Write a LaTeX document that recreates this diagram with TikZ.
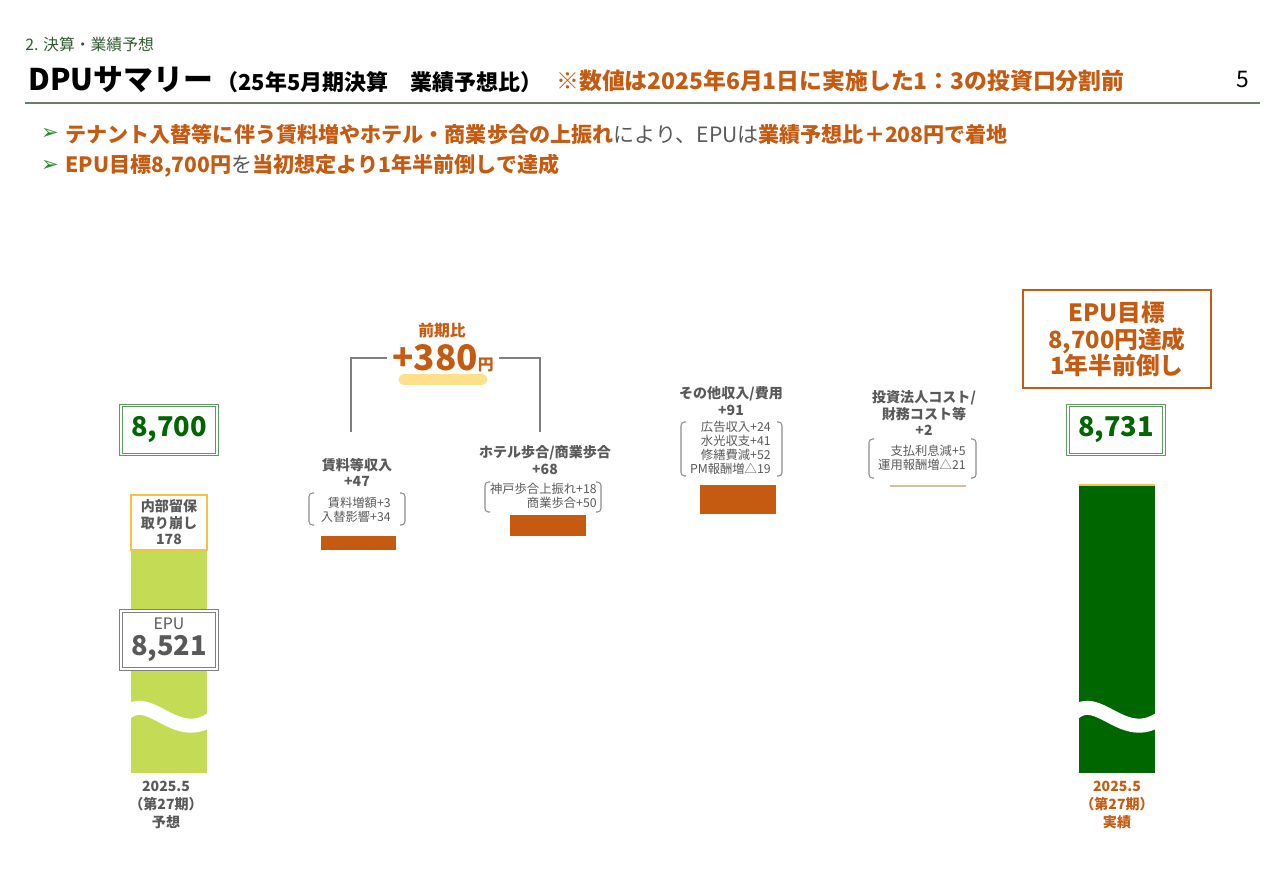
\documentclass[tikz,border=0pt]{standalone}
\usepackage{fontspec}
\setmainfont{Noto Sans CJK JP}
\newfontfamily\symfont{DejaVu Sans}
\usepackage{tikz}
\usetikzlibrary{positioning}

\definecolor{accent}{HTML}{C55A11}
\definecolor{txtgray}{HTML}{595959}
\definecolor{hdrgreen}{HTML}{2F5A2F}
\definecolor{rulegreen}{HTML}{667F66}
\definecolor{bulletgreen}{HTML}{2E8B2E}
\definecolor{numgreen}{HTML}{006600}
\definecolor{boxgreen}{HTML}{5E9A5E}
\definecolor{barlime}{HTML}{C4DB55}
\definecolor{bardark}{HTML}{006600}
\definecolor{boxyellow}{HTML}{F5C342}
\definecolor{hilite}{HTML}{FFE08A}
\definecolor{bartan}{HTML}{D9BD9E}
\definecolor{brkgray}{HTML}{8C8C8C}
\definecolor{lngray}{HTML}{7F7F7F}

\begin{document}
\begin{tikzpicture}
		[
			x=0.02cm, y=-0.02cm,
			every node/.style={inner sep=0pt},
			ttl/.style={font=\fontsize{8}{9.2}\selectfont\bfseries, text=txtgray, align=center},
			note/.style={font=\fontsize{7}{7.9}\selectfont, text=txtgray, align=right, anchor=east},
			brk/.style={draw=brkgray, line width=0.6pt, rounded corners=2pt},
			conn/.style={draw=lngray, line width=0.9pt},
			numbox/.style={draw=boxgreen, double=white, double distance=0.9pt, line width=0.6pt,
				fill=white, minimum width=1.92cm, minimum height=0.98cm,
				text=numgreen, font=\fontsize{15.5}{16}\selectfont\bfseries},
			ylbl/.style={font=\fontsize{8}{10}\selectfont\bfseries, align=center},
			wave/.style={draw=white, line width=8pt},
			dbar/.style={fill=accent},
			mark1/.style={text=bulletgreen, font=\symfont\bfseries\fontsize{12}{12}\selectfont}
		]
		\useasboundingbox (0,0) rectangle (1280,886);

		% header
		\node[anchor=west, text=hdrgreen, font=\fontsize{9}{10}\selectfont] (sec) at ( 25, 44) {2. 決算・業績予想};
		\node[anchor=west, font=\fontsize{17}{18}\selectfont\bfseries] (title) at ( 28, 80) {DPUサマリー};
		\node[anchor=west, font=\fontsize{12.5}{13}\selectfont\bfseries] (sub) at (216, 82) {（25年5月期決算　業績予想比）};
		\node[anchor=west, text=accent, font=\fontsize{13}{14}\selectfont\bfseries] (split) at (556, 81) {※数値は2025年6月1日に実施した1：3の投資口分割前};
		\node[font=\fontsize{13}{14}\selectfont] (page) at (1243, 80) {5};
		\draw[rulegreen, line width=1.2pt] (25,103) -- (1260,103);

		% bullets
		\node[mark1] (m1) at ( 50,134) {➢};
		\node[mark1] (m2) at ( 50,166) {➢};
		\node[anchor=west, font=\fontsize{12}{13}\selectfont] (b1) at ( 65,134)
			{\textcolor{accent}{\bfseries テナント入替等に伴う賃料増やホテル・商業歩合の上振れ}\textcolor{txtgray}{により、EPUは}\textcolor{accent}{\bfseries 業績予想比＋208円で着地}};
		\node[anchor=west, font=\fontsize{12}{13}\selectfont] (b2) at ( 65,166)
			{\textcolor{accent}{\bfseries EPU目標8,700円}\textcolor{txtgray}{を}\textcolor{accent}{\bfseries 当初想定より1年半前倒しで達成}};

		% forecast bar
		\fill[barlime] (131,550) rectangle (207,773);
		\node[draw=boxyellow, line width=0.8pt, fill=white, minimum width=1.52cm, minimum height=1.1cm,
			text=txtgray, font=\fontsize{8}{9.4}\selectfont\bfseries, align=center] (rsv) at (169,522.5) {内部留保\\取り崩し\\178};
		\node[numbox] (tgt) at (169,430) {8,700};
		\node[numbox, draw=gray, minimum height=1.16cm, text=txtgray, align=center] (epu) at (169,640)
			{{\fontsize{9}{10}\selectfont\mdseries EPU}\\[-1pt]8,521};
		\node[ylbl, text=txtgray] (yl) at (166,805) {2025.5\\（第27期）\\予想};

		% actual bar
		\fill[bardark] (1079,485) rectangle (1155,773);
		\draw[boxyellow, line width=1.2pt] (1079,485) -- (1155,485);
		\node[numbox] (act) at (1116,430) {8,731};
		\node[draw=accent, line width=1pt, minimum width=3.76cm, minimum height=1.96cm, text=accent,
			font=\fontsize{13.5}{15}\selectfont\bfseries, align=center] (goal) at (1117,339) {EPU目標\\8,700円達成\\1年半前倒し};
		\node[ylbl, text=accent] (yr) at (1117,805) {2025.5\\（第27期）\\実績};

		% breaks
		\foreach \bx in {131,1079}
		\draw[wave] (\bx-6,714) .. controls (\bx+19,690) and (\bx+44,745) .. (\bx+82,718);

		% delta titles
		\node[ttl] (rent)  at (357,472) {賃料等収入\\+47};
		\node[ttl] (hotel) at (545,460) {ホテル歩合/商業歩合\\+68};
		\node[ttl] (other) at (731,401) {その他収入/費用\\+91};
		\node[ttl] (cost)  at (924,413) {投資法人コスト/\\財務コスト等\\+2};

		% delta notes
		\node[note] (rentN)  at (391,509.5) {賃料増額+3\\入替影響+34};
		\node[note] (hotelN) at (597,496) {神戸歩合上振れ+18\\商業歩合+50};
		\node[note] (otherN) at (771,448) {広告収入+24\\水光収支+41\\修繕費減+52\\PM報酬増△19};
		\node[note] (costN)  at (966,458) {支払利息減+5\\運用報酬増△21};

		\foreach \xa/\ya/\xb/\yb in {309/493/405/525, 485/482/601/512, 681/422/782/476, 869/439/976/478}
		{
			\draw[brk] (\xa+5,\ya) -- (\xa,\ya) -- (\xa,\yb) -- (\xa+5,\yb);
			\draw[brk] (\xb-5,\ya) -- (\xb,\ya) -- (\xb,\yb) -- (\xb-5,\yb);
		}

		% delta bars
		\foreach \xa/\ya/\xb/\yb in {321/536/396/550, 510/515/586/536, 700/485/776/514}
		\fill[dbar] (\xa,\ya) rectangle (\xb,\yb);
		\fill[bartan] (890,485) rectangle (966,487);

		% total change
		\node[text=accent, font=\fontsize{9}{10}\selectfont\bfseries] (yoyT) at (442,330) {前期比};
		\draw[hilite, line width=6.3pt, line cap=round] (404,379.5) -- (482,379.5);
		\node[text=accent, font=\bfseries, outer sep=3pt] (yoy) at (443,358)
			{{\fontsize{20}{20}\selectfont +380}{\fontsize{9}{9}\selectfont 円}};
		\coordinate (rentTop)  at (351,432);
		\coordinate (hotelTop) at (540,432);
		\draw[conn] (yoy.west) -| (rentTop);
		\draw[conn] (yoy.east) -| (hotelTop);

	\end{tikzpicture}
\end{document}
